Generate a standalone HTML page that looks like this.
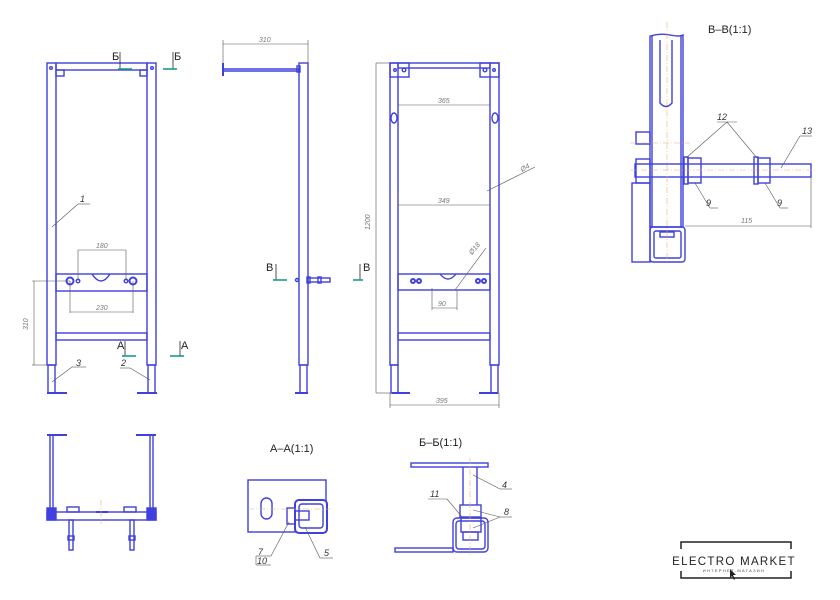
<!DOCTYPE html>
<html><head><meta charset="utf-8"><style>
html,body{margin:0;padding:0;background:#fff;}
svg{display:block}
text{font-family:"Liberation Sans",sans-serif;}
.b{stroke:#4040dc;fill:none;stroke-width:1.4}
.g{stroke:#555;fill:none;stroke-width:0.6}
.c{stroke:#e8b070;fill:none;stroke-width:0.6;stroke-dasharray:6 2 1 2}
.t{stroke:#1a9a8a;stroke-width:1.6}
.dim{font-size:7px;fill:#777;font-style:italic}
.lbl{font-size:9px;fill:#333;font-style:italic}
.sec{font-size:11px;fill:#222}
</style></head><body>
<svg width="840" height="600" viewBox="0 0 840 600" xmlns="http://www.w3.org/2000/svg">

<!-- ===== View 1 (front) ===== -->
<g class="b">
<rect x="47" y="63" width="9" height="302"/>
<rect x="147" y="63" width="9" height="302"/>
<rect x="56" y="63" width="91" height="7"/>
<rect x="56" y="274" width="91" height="17"/>
<rect x="56" y="333" width="91" height="7"/>
<rect x="48" y="365" width="7" height="28"/>
<rect x="148" y="365" width="7" height="28"/>
<line x1="47" y1="393" x2="67" y2="393" stroke-width="2"/>
<line x1="137" y1="393" x2="157" y2="393" stroke-width="2"/>
<path d="M92,274 Q101,288 110,274"/>
<rect x="56" y="70" width="8" height="6"/><rect x="140" y="70" width="7" height="6"/>
<circle cx="70" cy="281" r="3.5" stroke-width="2"/><circle cx="78" cy="281" r="1.8"/>
<circle cx="133" cy="281" r="3.5" stroke-width="2"/><circle cx="126" cy="281" r="1.8"/>
<circle cx="51" cy="68" r="1.3"/><circle cx="152" cy="68" r="1.3"/>
</g>
<g class="g">
<line x1="78" y1="250" x2="78" y2="281"/><line x1="126" y1="250" x2="126" y2="281"/>
<line x1="78" y1="250" x2="126" y2="250"/>
<line x1="70" y1="281" x2="70" y2="313"/><line x1="133" y1="281" x2="133" y2="313"/>
<line x1="70" y1="312" x2="133" y2="312"/>
<line x1="32" y1="281" x2="70" y2="281"/><line x1="32" y1="365" x2="47" y2="365"/>
<line x1="34" y1="281" x2="34" y2="365"/>
<line x1="52" y1="227" x2="78" y2="204"/><line x1="78" y1="204" x2="90" y2="204"/>
<line x1="52" y1="382" x2="72" y2="367"/><line x1="72" y1="367" x2="86" y2="367"/>
<line x1="150" y1="380" x2="130" y2="368"/><line x1="120" y1="368" x2="130" y2="368"/>
</g>
<text x="96" y="248" class="dim">180</text>
<text x="96" y="310" class="dim">230</text>
<text x="28" y="330" class="dim" transform="rotate(-90 28 330)">310</text>
<text x="80" y="202" class="lbl">1</text>
<text x="76" y="366" class="lbl">3</text>
<text x="121" y="366" class="lbl">2</text>
<text x="112" y="60" class="sec">Б</text><text x="174" y="60" class="sec">Б</text>
<line x1="120" y1="52" x2="120" y2="69" stroke="#222" stroke-width="0.8"/>
<line x1="173" y1="52" x2="173" y2="69" stroke="#222" stroke-width="0.8"/>
<line class="t" x1="118" y1="69" x2="132" y2="69"/><line class="t" x1="163" y1="69" x2="177" y2="69"/>
<text x="117" y="349" class="sec">А</text><text x="181" y="349" class="sec">А</text>
<line x1="125" y1="341" x2="125" y2="356" stroke="#222" stroke-width="0.8"/>
<line x1="180" y1="341" x2="180" y2="356" stroke="#222" stroke-width="0.8"/>
<line class="t" x1="122" y1="356" x2="136" y2="356"/><line class="t" x1="170" y1="356" x2="184" y2="356"/>

<!-- ===== View 2 (side) ===== -->
<g class="b">
<rect x="299" y="63" width="9" height="302"/>
<rect x="300" y="365" width="7" height="28"/>
<line x1="295" y1="393" x2="308" y2="393" stroke-width="2"/>
<line x1="223" y1="69" x2="299" y2="69"/><line x1="223" y1="71" x2="299" y2="71"/>
<line x1="223" y1="63" x2="223" y2="76" stroke-width="2"/>
<rect x="297" y="66" width="3" height="6"/>
<rect x="308" y="278" width="22" height="4"/><rect x="318" y="277" width="3" height="6"/>
<rect x="307" y="277" width="3" height="6"/>
<circle cx="297" cy="280" r="1.5"/>
</g>
<g class="g"><line x1="223" y1="44" x2="308" y2="44"/><line x1="223" y1="40" x2="223" y2="63"/><line x1="308" y1="40" x2="308" y2="63"/></g>
<text x="259" y="42" class="dim">310</text>
<text x="266" y="271" class="sec">В</text><text x="363" y="271" class="sec">В</text>
<line x1="276" y1="264" x2="276" y2="280" stroke="#222" stroke-width="0.8"/>
<line x1="360" y1="264" x2="360" y2="280" stroke="#222" stroke-width="0.8"/>
<line class="t" x1="273" y1="280" x2="287" y2="280"/><line class="t" x1="353" y1="280" x2="363" y2="280"/>

<!-- ===== View 3 ===== -->
<g class="b">
<rect x="390" y="63" width="8" height="302"/>
<rect x="490" y="63" width="9" height="302"/>
<rect x="398" y="63" width="92" height="5"/>
<rect x="390" y="63" width="19" height="14"/><rect x="480" y="63" width="19" height="14"/>
<rect x="398" y="274" width="92" height="16"/>
<path d="M440,274 Q448,284 456,274"/>
<rect x="398" y="333" width="92" height="7"/>
<rect x="391" y="365" width="7" height="28"/><rect x="491" y="365" width="7" height="28"/>
<line x1="392" y1="393" x2="410" y2="393" stroke-width="2"/><line x1="479" y1="393" x2="498" y2="393" stroke-width="2"/>
<ellipse cx="394" cy="118" rx="3" ry="5"/><ellipse cx="495" cy="118" rx="3" ry="5"/>
<circle cx="413" cy="281" r="2" stroke-width="2"/><circle cx="419" cy="281" r="2" stroke-width="2"/>
<circle cx="478" cy="281" r="2" stroke-width="2"/><circle cx="484" cy="281" r="2" stroke-width="2"/>
<circle cx="395" cy="70" r="1.3"/><circle cx="404" cy="70" r="1.8"/>
<circle cx="485" cy="70" r="1.8"/><circle cx="494" cy="70" r="1.3"/>
</g>
<g class="g">
<line x1="376" y1="63" x2="376" y2="393"/><line x1="376" y1="63" x2="390" y2="63"/><line x1="376" y1="393" x2="392" y2="393"/>
<line x1="390" y1="393" x2="390" y2="408"/><line x1="499" y1="393" x2="499" y2="408"/><line x1="390" y1="405" x2="499" y2="405"/>
<line x1="398" y1="105" x2="490" y2="105"/>
<line x1="398" y1="205" x2="490" y2="205"/><line x1="398" y1="190" x2="398" y2="206"/><line x1="490" y1="190" x2="490" y2="206"/>
<line x1="432" y1="288" x2="432" y2="310"/><line x1="457" y1="290" x2="457" y2="310"/><line x1="432" y1="308" x2="457" y2="308"/>
<line x1="455" y1="290" x2="486" y2="248"/>
<line x1="487" y1="191" x2="535" y2="167"/>
</g>
<text x="370" y="230" class="dim" transform="rotate(-90 370 230)">1200</text>
<text x="438" y="103" class="dim">365</text>
<text x="438" y="203" class="dim">349</text>
<text x="438" y="306" class="dim">90</text>
<text x="436" y="403" class="dim">395</text>
<text x="472" y="255" class="dim" transform="rotate(-50 472 255)">Ø18</text>
<text x="522" y="172" class="dim" transform="rotate(-30 522 172)">Ø4</text>

<!-- ===== Section B-B ===== -->
<text x="708" y="33" class="sec">В–В(1:1)</text>
<g class="b">
<path d="M650,36 Q660,33 670,35 T683,35 L683,227 L650,227 Z"/>
<line x1="652" y1="36" x2="652" y2="227"/><line x1="681" y1="36" x2="681" y2="227"/>
<path d="M660,40 L660,103 Q666,110 672,103 L672,40"/>
<rect x="650" y="227" width="35" height="35" rx="3"/><rect x="654" y="231" width="27" height="27" rx="2"/>
<rect x="660" y="232" width="14" height="5"/>
<rect x="635" y="164" width="176" height="13"/>
<rect x="688" y="158" width="13" height="25"/><rect x="684" y="157" width="4" height="27"/>
<rect x="758" y="158" width="12" height="25"/><rect x="754" y="157" width="4" height="27"/>
<rect x="636" y="132" width="14" height="12"/><rect x="636" y="159" width="14" height="24"/>
<rect x="632" y="183" width="18" height="79"/>
</g>
<g class="c"><line x1="667" y1="22" x2="667" y2="260"/><line x1="630" y1="170" x2="815" y2="170"/><line x1="630" y1="143" x2="690" y2="143"/></g>
<g class="g">
<line x1="685" y1="226" x2="811" y2="226"/><line x1="811" y1="177" x2="811" y2="228"/>
<line x1="686" y1="158" x2="727" y2="122"/><line x1="757" y1="158" x2="727" y2="122"/><line x1="717" y1="122" x2="737" y2="122"/>
<line x1="781" y1="168" x2="800" y2="136"/><line x1="800" y1="136" x2="812" y2="136"/>
<line x1="695" y1="183" x2="710" y2="208"/><line x1="710" y1="208" x2="718" y2="208"/>
<line x1="765" y1="183" x2="780" y2="208"/><line x1="780" y1="208" x2="788" y2="208"/>
</g>
<text x="717" y="120" class="lbl">12</text><text x="802" y="134" class="lbl">13</text>
<text x="706" y="206" class="lbl">9</text><text x="777" y="206" class="lbl">9</text>
<text x="741" y="223" class="dim">115</text>

<!-- ===== Bottom-left top view ===== -->
<g class="b">
<line x1="47" y1="435" x2="67" y2="435" stroke-width="2"/><line x1="136" y1="435" x2="156" y2="435" stroke-width="2"/>
<line x1="50" y1="435" x2="50" y2="508"/><line x1="53" y1="435" x2="53" y2="508"/>
<line x1="150" y1="435" x2="150" y2="508"/><line x1="153" y1="435" x2="153" y2="508"/>
<rect x="47" y="512" width="109" height="8"/>
<rect x="47" y="508" width="9" height="12" fill="#4040dc"/><rect x="147" y="508" width="9" height="12" fill="#4040dc"/>
<line x1="96" y1="512" x2="108" y2="512" stroke-width="2"/>
<rect x="67" y="507" width="12" height="5"/><rect x="124" y="507" width="12" height="5"/>
<rect x="69" y="520" width="4" height="30"/><rect x="68" y="536" width="6" height="4"/>
<rect x="130" y="520" width="4" height="30"/><rect x="129" y="536" width="6" height="4"/>
</g>
<line class="c" x1="101" y1="500" x2="101" y2="524"/>

<!-- ===== Section A-A ===== -->
<text x="270" y="452" class="sec">А–А(1:1)</text>
<g class="b">
<rect x="248" y="480" width="78" height="52"/>
<rect x="261" y="498" width="11" height="21" rx="5.5"/>
<rect x="295" y="500" width="32" height="33" rx="4" fill="#fff" stroke-width="2"/>
<rect x="299" y="504" width="24" height="24" rx="3"/>
<rect x="287" y="508" width="8" height="16"/>
<rect x="295" y="511" width="14" height="9"/>
</g>
<line class="c" x1="248" y1="509" x2="330" y2="509"/>
<g class="g">
<line x1="289" y1="522" x2="271" y2="556"/><line x1="256" y1="556" x2="271" y2="556"/><line x1="256" y1="565" x2="271" y2="565"/><line x1="256" y1="556" x2="256" y2="565"/>
<line x1="305" y1="527" x2="320" y2="558"/><line x1="320" y1="558" x2="333" y2="558"/>
</g>
<text x="258" y="555" class="lbl">7</text><text x="257" y="564" class="lbl">10</text><text x="324" y="556" class="lbl">5</text>

<!-- ===== Section Б-Б ===== -->
<text x="419" y="446" class="sec">Б–Б(1:1)</text>
<g class="b">
<rect x="411" y="463" width="77" height="4"/>
<line x1="463" y1="467" x2="463" y2="505"/><line x1="477" y1="467" x2="477" y2="505"/>
<rect x="460" y="505" width="21" height="12"/>
<rect x="453" y="518" width="35" height="34" rx="4"/><rect x="456" y="521" width="29" height="28" rx="3"/>
<rect x="461" y="518" width="20" height="14"/><rect x="463" y="532" width="15" height="8"/>
<rect x="395" y="548" width="58" height="4"/>
</g>
<line class="c" x1="470" y1="458" x2="470" y2="556"/>
<g class="g">
<line x1="473" y1="475" x2="500" y2="489"/><line x1="500" y1="489" x2="512" y2="489"/>
<line x1="447" y1="499" x2="462" y2="517"/><line x1="428" y1="499" x2="447" y2="499"/>
<line x1="473" y1="510" x2="500" y2="517"/><line x1="473" y1="528" x2="500" y2="517"/><line x1="500" y1="517" x2="512" y2="517"/>
</g>
<text x="502" y="488" class="lbl">4</text><text x="430" y="497" class="lbl">11</text><text x="504" y="515" class="lbl">8</text>

<!-- ===== Logo ===== -->
<g stroke="#222" stroke-width="1.5" fill="none">
<path d="M681,549 L681,542 L791,542 L791,549"/>
<path d="M681,571 L681,578 L791,578 L791,571"/>
</g>
<text x="734" y="565" text-anchor="middle" style="font-size:11.5px;letter-spacing:1.3px;fill:#222">ELECTRO MARKET</text>
<text x="734" y="572" text-anchor="middle" style="font-size:4px;letter-spacing:1.3px;fill:#444">ИНТЕРНЕТ-МАГАЗИН</text>
<path d="M730,569 L730,578 L732,576 L734,580 L735,579 L733,575 L736,575 Z" fill="#222"/>
</svg>
</body></html>
